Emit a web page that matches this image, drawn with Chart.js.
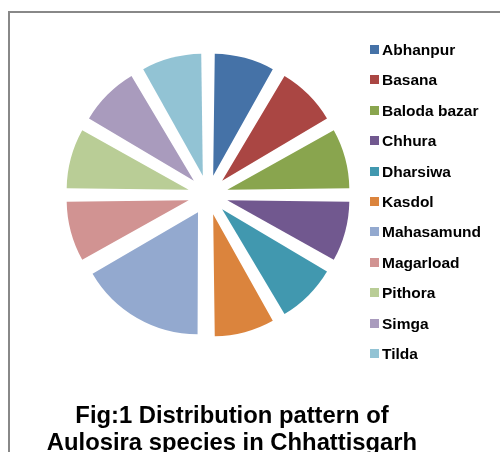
<!DOCTYPE html>
<html>
<head>
<meta charset="utf-8">
<script src="https://cdn.jsdelivr.net/npm/chart.js@4"></script>
<style>
  html, body { margin: 0; padding: 0; background: #fff; overflow: hidden; }
  body { width: 500px; height: 452px; position: relative; font-family: "Liberation Sans", Arial, sans-serif; }
  #frame { position: absolute; left: 8px; top: 11px; width: 600px; height: 600px; border: 2px solid #888; }
  #chart { position: absolute; left: 0; top: 0; }
  #legend { position: absolute; left: 370px; top: 41px; }
  .item { height: 30.4px; position: relative; font-weight: bold; font-size: 15.5px; color: #000; white-space: nowrap; }
  .item .box { position: absolute; left: 0; top: 4px; width: 9px; height: 9px; }
  .item .txt { position: absolute; left: 12px; top: 0; line-height: 17px; }
  #title { position: absolute; left: 32px; width: 400px; top: 401px; text-align: center;
           font-weight: bold; font-size: 23.8px; line-height: 27px; color: #000; white-space: nowrap; }
</style>
</head>
<body>
<div id="frame"></div>
<canvas id="chart" width="500" height="452"></canvas>
<div id="legend"></div>
<div id="title">Fig:1 Distribution pattern of<br>Aulosira species in Chhattisgarh</div>
<script>
  // ── Data ──
  var places = ['Abhanpur', 'Basana', 'Baloda bazar', 'Chhura', 'Dharsiwa', 'Kasdol',
                'Mahasamund', 'Magarload', 'Pithora', 'Simga', 'Tilda'];
  var counts = [1, 1, 1, 1, 1, 1, 2, 1, 1, 1, 1];
  var colors = ['#4572A7', '#AA4643', '#89A54E', '#71588F', '#4198AF', '#DB843D',
                '#93A9CF', '#D19392', '#B9CD96', '#A99BBD', '#92C3D4'];

  var EXPLODE = 80; // Chart.js moves an arc by offset/4, so ~20px

  // Chart.js also grows narrow arcs when offset is set; undo that so
  // every slice keeps the same radius (plain radial explode)
  var evenRadius = {
    id: 'evenRadius',
    beforeDatasetsDraw: function(chart) {
      var arcs = chart.getDatasetMeta(0).data;
      for (var i = 0; i < arcs.length; i++) {
        var a = arcs[i];
        if (a._baseR === undefined) a._baseR = a.outerRadius;
        var circ = a.endAngle - a.startAngle;
        var fix = 1 - Math.sin(Math.min(Math.PI, circ));
        a.outerRadius = a._baseR - (EXPLODE / 4) * fix;
      }
    }
  };

  new Chart(document.getElementById('chart'), {
    type: 'pie',
    data: {
      labels: places,
      datasets: [{
        data: counts,
        backgroundColor: colors,
        borderWidth: 0,
        offset: EXPLODE,
        hoverOffset: 0
      }]
    },
    options: {
      responsive: false,
      animation: false,
      events: [],
      layout: { padding: { left: 46, right: 130, top: 33, bottom: 95 } },
      plugins: {
        legend: { display: false },
        tooltip: { enabled: false }
      }
    },
    plugins: [evenRadius]
  });

  // ── Legend ──
  var legendEl = document.getElementById('legend');
  for (var i = 0; i < places.length; i++) {
    var row = document.createElement('div');
    row.className = 'item';
    row.innerHTML = '<span class="box" style="background:' + colors[i] + '"></span>' +
                    '<span class="txt">' + places[i] + '</span>';
    legendEl.appendChild(row);
  }
</script>
</body>
</html>
